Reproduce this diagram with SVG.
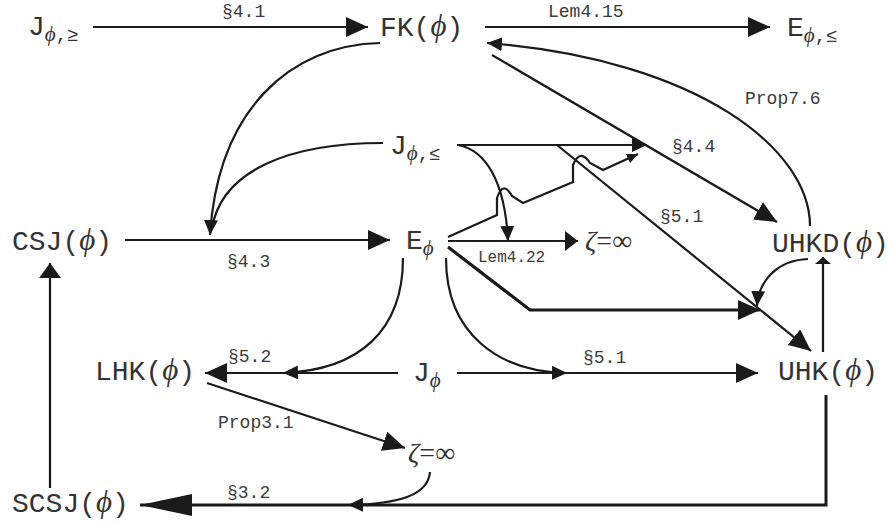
<svg xmlns="http://www.w3.org/2000/svg" width="890" height="525" viewBox="0 0 890 525">
<style>
.n{font-family:"Liberation Mono","DejaVu Sans Mono",monospace;font-size:28px;fill:#333}
.p{font-family:"Liberation Serif","DejaVu Serif",serif;font-style:italic;font-size:31px}
.s{font-size:19px}
.ps{font-family:"Liberation Serif","DejaVu Serif",serif;font-style:italic;font-size:21px}
.z{font-family:"Liberation Serif","DejaVu Serif",serif;font-size:28px;fill:#333}
.l{font-family:"Liberation Mono","DejaVu Sans Mono",monospace;font-size:18px;fill:#3a3a3a}
.c{fill:none;stroke:#1a1a1a;stroke-width:2.2}
.big{marker-end:url(#big)}
.med{marker-end:url(#med)}
</style>
<defs>
<marker id="big" markerUnits="userSpaceOnUse" markerWidth="22" markerHeight="20" refX="22" refY="10" orient="auto"><path d="M0,0 L22,10 L0,20 z" fill="#1a1a1a"/></marker>
<marker id="med" markerUnits="userSpaceOnUse" markerWidth="15" markerHeight="14" refX="15" refY="7" orient="auto"><path d="M0,0 L15,7 L0,14 z" fill="#1a1a1a"/></marker>
<marker id="sm" markerUnits="userSpaceOnUse" markerWidth="11" markerHeight="10" refX="11" refY="5" orient="auto"><path d="M0,0 L11,5 L0,10 z" fill="#1a1a1a"/></marker>
<marker id="stub" markerUnits="userSpaceOnUse" markerWidth="13" markerHeight="20" refX="13" refY="10" orient="auto"><path d="M0,0 L13,10 L0,20 z" fill="#1a1a1a"/></marker>
<marker id="flat" markerUnits="userSpaceOnUse" markerWidth="7" markerHeight="16" refX="7" refY="8" orient="auto"><path d="M0,0 L7,8 L0,16 z" fill="#1a1a1a"/></marker>
<marker id="long" markerUnits="userSpaceOnUse" markerWidth="52" markerHeight="22" refX="52" refY="11" orient="auto"><path d="M0,0 L52,11 L0,22 z" fill="#1a1a1a"/></marker>
<marker id="up" markerUnits="userSpaceOnUse" markerWidth="15" markerHeight="22" refX="15" refY="11" orient="auto"><path d="M0,0 L15,11 L0,22 z" fill="#1a1a1a"/></marker>
</defs>

<g id="connectors">
<path class="c big" d="M93,27 L368,27"/>
<path class="c big" d="M485,27 L770,27"/>
<path class="c med" d="M810,226 C810,150 700,60 487,43"/>
<path class="c big" d="M492,55 L777,222"/>
<path class="c med" d="M380,43 C290,45 218,110 210,235"/>
<path class="c" d="M383,143 C290,143 222,170 212,228"/>
<path class="c big" d="M125,240 L390,240"/>
<path class="c med" d="M457,145 L647,145"/>
<path class="c" style="marker-end:url(#sm)" d="M448,237 L497,215 L497,198 Q503,180 512,196 L523,203 L573,182 L573,165 Q580,148 590,163 L603,170 L638,154"/>
<path class="c med" d="M458,145 C485,150 505,180 508,241"/>
<path class="c" style="marker-end:url(#stub)" d="M448,241 L578,241"/>
<path class="c big" d="M557,145 L811,351"/>
<path class="c big" style="stroke-width:3.2" d="M448,247 L530,310 L760,310"/>
<path class="c med" d="M808,259 C780,260 759,278 757,306"/>
<path class="c" style="marker-end:url(#flat)" d="M823,352 L823,257"/>
<path class="c med" d="M403,258 C403,330 360,370 283,373"/>
<path class="c big" d="M398,373 L205,373"/>
<path class="c med" d="M446,258 C446,335 500,372 567,373"/>
<path class="c big" d="M457,373 L758,373"/>
<path class="c big" d="M207,383 L405,448"/>
<path class="c" style="stroke-width:3;marker-end:url(#long)" d="M826,395 L826,505 L140,505"/>
<path class="c med" d="M430,472 C428,495 400,504 348,505"/>
<path class="c" style="marker-end:url(#up)" d="M50,488 L50,263"/>
<text class="l" x="222" y="17">§4.1</text>
<text class="l" x="548" y="17">Lem4.15</text>
<text class="l" x="745" y="104">Prop7.6</text>
<text class="l" x="672" y="152">§4.4</text>
<text class="l" x="660" y="222">§5.1</text>
<text class="l" x="227" y="267">§4.3</text>
<text class="l" x="478" y="262" style="font-size:16px">Lem4.22</text>
<text class="l" x="228" y="362">§5.2</text>
<text class="l" x="583" y="363">§5.1</text>
<text class="l" x="218" y="428">Prop3.1</text>
<text class="l" x="227" y="498">§3.2</text>
</g>

<g id="J_phi_ge"><text class="n" x="28" y="35">J<tspan class="ps" dy="6">ϕ</tspan><tspan class="s">,≥</tspan></text></g>
<g id="FK"><text class="n" x="380" y="36">FK(<tspan class="p">ϕ</tspan>)</text></g>
<g id="E_phi_le"><text class="n" x="787" y="36">E<tspan class="ps" dy="6">ϕ</tspan><tspan class="s">,≤</tspan></text></g>
<g id="J_phi_le"><text class="n" x="390" y="154">J<tspan class="ps" dy="6">ϕ</tspan><tspan class="s">,≤</tspan></text></g>
<g id="CSJ"><text class="n" x="12" y="250">CSJ(<tspan class="p">ϕ</tspan>)</text></g>
<g id="E_phi"><text class="n" x="406" y="249">E<tspan class="ps" dy="6">ϕ</tspan></text></g>
<g id="zeta1"><text class="z" x="585" y="250"><tspan font-style="italic">ζ</tspan>=∞</text></g>
<g id="UHKD"><text class="n" x="772" y="252">UHKD(<tspan class="p">ϕ</tspan>)</text></g>
<g id="LHK"><text class="n" x="95" y="380">LHK(<tspan class="p">ϕ</tspan>)</text></g>
<g id="J_phi"><text class="n" x="413" y="381">J<tspan class="ps" dy="6">ϕ</tspan></text></g>
<g id="UHK"><text class="n" x="778" y="380">UHK(<tspan class="p">ϕ</tspan>)</text></g>
<g id="zeta2"><text class="z" x="408" y="462"><tspan font-style="italic">ζ</tspan>=∞</text></g>
<g id="SCSJ"><text class="n" x="12" y="512">SCSJ(<tspan class="p">ϕ</tspan>)</text></g>
</svg>
